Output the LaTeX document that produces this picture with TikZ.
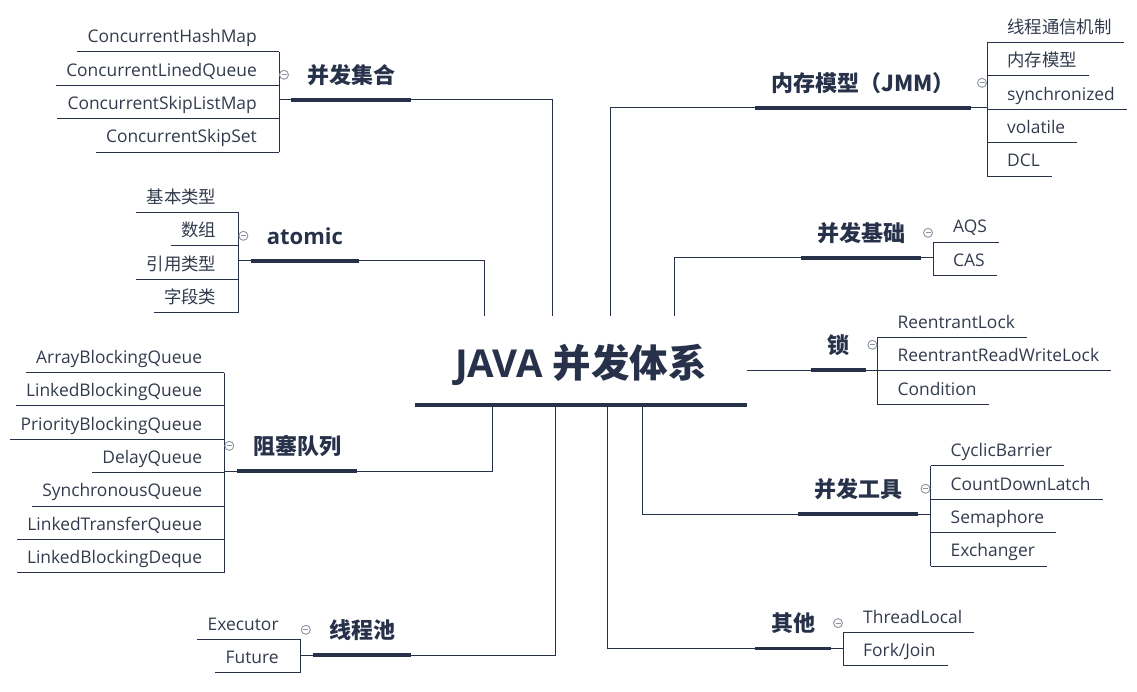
\documentclass[tikz,border=0pt]{standalone}
\usepackage{fontspec}
\setmainfont{Open Sans}
\newfontfamily\cjk{Noto Sans CJK SC}
\usetikzlibrary{positioning}
\definecolor{ink}{HTML}{27324A}
\definecolor{leaftext}{HTML}{323B4D}
\definecolor{foldgray}{HTML}{8C93A0}
\tikzset{
    %Define style for the leaves (left side, text flush right)
    leafl/.style={
           inner xsep=10pt, inner ysep=0pt,
           minimum height=33pt,
           text height=15pt, text depth=0pt,
           font=\fontsize{17.4}{20}\selectfont,
           text=leaftext},
    %leaves on the right side
    leafr/.style={leafl, inner xsep=12pt},
    %Define style for the topics
    topic/.style={
           inner xsep=16pt, inner ysep=0pt,
           minimum height=50pt,
           text height=17pt, text depth=0pt,
           font=\fontsize{22}{26}\selectfont\bfseries,
           text=ink},
    root/.style={
           inner sep=0pt,
           minimum width=331.4pt, minimum height=89pt,
           text height=33pt, text depth=0pt,
           font=\fontsize{38.5}{44}\selectfont\bfseries,
           text=ink},
    % Define line styles
    bar/.style={draw=ink, line width=3.5pt},
    rootbar/.style={draw=ink, line width=4.5pt},
    link/.style={draw=ink, line width=1pt},
    fold/.style={
           circle, draw=foldgray, line width=0.9pt, fill=white,
           minimum size=9pt, inner sep=0pt,
           path picture={\draw[foldgray, line width=0.9pt]
             ([xshift=-2.5pt]path picture bounding box.center) --
             ([xshift=2.5pt]path picture bounding box.center);}}
}
\begin{document}
\begin{tikzpicture}[x=1pt, y=-1pt]
 \useasboundingbox (0,0) rectangle (1137,692);
 \node[root] (root) at (581,360.5) {JAVA {\cjk 并发体系}};
 \draw[rootbar] (root.south west) -- (root.south east);

 % 并发集合
 \coordinate (collb) at (279,100);
 \node[topic, anchor=south west] (coll) at (291,100) {{\cjk 并发集合}};
 \node[leafl, anchor=east] (chm) at (267,35.2) {ConcurrentHashMap};
 \node[leafl, anchor=north east] (clq) at (chm.south east) {ConcurrentLinedQueue};
 \node[leafl, anchor=north east] (cslm) at (clq.south east) {ConcurrentSkipListMap};
 \node[leafl, anchor=north east] (css) at (cslm.south east) {ConcurrentSkipSet};
 \draw[link] (chm.south west) -- (chm.south -| collb)
             (clq.south west) -- (clq.south -| collb)
             (cslm.south west) -- (cslm.south -| collb)
             (css.south west) -- (css.south -| collb);
 \draw[link] (chm.south -| collb) -- (css.south -| collb);
 \draw[link] (collb) -- (coll.south west);
 \draw[bar] (coll.south west) -- (coll.south east);
 \draw[link] (coll.south east) -| ([xshift=-28.7pt]root.north);

 % atomic
 \coordinate (atomb) at (238.4,261);
 \node[topic, anchor=south west] (atomic) at (250.7,261) {atomic};
 \node[leafl, anchor=east] (basic) at (226.4,195.8) {{\cjk 基本类型}};
 \node[leafl, anchor=north east] (array) at (basic.south east) {{\cjk 数组}};
 \node[leafl, anchor=north east] (ref) at (array.south east) {{\cjk 引用类型}};
 \node[leafl, anchor=north east] (field) at (ref.south east) {{\cjk 字段类}};
 \draw[link] (basic.south west) -- (basic.south -| atomb)
             (array.south west) -- (array.south -| atomb)
             (ref.south west) -- (ref.south -| atomb)
             (field.south west) -- (field.south -| atomb);
 \draw[link] (basic.south -| atomb) -- (field.south -| atomb);
 \draw[link] (atomb) -- (atomic.south west);
 \draw[bar] (atomic.south west) -- (atomic.south east);
 \draw[link] (atomic.south east) -| ([xshift=-97pt]root.north);

 % 阻塞队列
 \coordinate (queueb) at (224.3,471);
 \node[topic, anchor=south west] (queue) at (237,471) {{\cjk 阻塞队列}};
 \node[leafl, anchor=east] (abq) at (212.3,355.8) {ArrayBlockingQueue};
 \node[leafl, anchor=north east] (lbq) at (abq.south east) {LinkedBlockingQueue};
 \node[leafl, anchor=north east] (pbq) at (lbq.south east) {PriorityBlockingQueue};
 \node[leafl, anchor=north east] (dq) at (pbq.south east) {DelayQueue};
 \node[leafl, anchor=north east] (sq) at (dq.south east) {SynchronousQueue};
 \node[leafl, anchor=north east] (ltq) at (sq.south east) {LinkedTransferQueue};
 \node[leafl, anchor=north east] (lbd) at (ltq.south east) {LinkedBlockingDeque};
 \draw[link] (abq.south west) -- (abq.south -| queueb)
             (lbq.south west) -- (lbq.south -| queueb)
             (pbq.south west) -- (pbq.south -| queueb)
             (dq.south west) -- (dq.south -| queueb)
             (sq.south west) -- (sq.south -| queueb)
             (ltq.south west) -- (ltq.south -| queueb)
             (lbd.south west) -- (lbd.south -| queueb);
 \draw[link] (abq.south -| queueb) -- (lbd.south -| queueb);
 \draw[link] (queueb) -- (queue.south west);
 \draw[bar] (queue.south west) -- (queue.south east);
 \draw[link] (queue.south east) -| ([xshift=-88.7pt]root.south);

 % 线程池
 \coordinate (poolb) at (300.8,655);
 \node[topic, anchor=south west] (pool) at (313,655) {{\cjk 线程池}};
 \node[leafl, anchor=east] (exec) at (288.8,622.8) {Executor};
 \node[leafl, anchor=north east] (future) at (exec.south east) {Future};
 \draw[link] (exec.south west) -- (exec.south -| poolb)
             (future.south west) -- (future.south -| poolb);
 \draw[link] (exec.south -| poolb) -- (future.south -| poolb);
 \draw[link] (poolb) -- (pool.south west);
 \draw[bar] (pool.south west) -- (pool.south east);
 \draw[link] (pool.south east) -| ([xshift=-25.3pt]root.south);

 % 内存模型
 \coordinate (jmmb) at (987,108);
 \node[topic, anchor=south west] (jmm) at (755,108) {{\cjk 内存模型（JMM）}};
 \node[leafr, anchor=west] (comm) at (995,25.8) {{\cjk 线程通信机制}};
 \node[leafr, anchor=north west] (mem) at (comm.south west) {{\cjk 内存模型}};
 \node[leafr, anchor=north west] (sync) at (mem.south west) {synchronized};
 \node[leafr, anchor=north west] (vol) at (sync.south west) {volatile};
 \node[leafr, anchor=north west] (dcl) at (vol.south west) {DCL};
 \draw[link] (jmmb |- comm.south) -- (comm.south east)
             (jmmb |- mem.south) -- (mem.south east)
             (jmmb |- sync.south) -- (sync.south east)
             (jmmb |- vol.south) -- (vol.south east)
             (jmmb |- dcl.south) -- (dcl.south east);
 \draw[link] (jmmb |- comm.south) -- (jmmb |- dcl.south);
 \draw[link] (jmm.south east) -- (jmmb);
 \draw[bar] (jmm.south west) -- (jmm.south east);
 \draw[link] (jmm.south west) -| ([xshift=29.7pt]root.north);

 % 并发基础
 \coordinate (basisb) at (933,258);
 \node[topic, anchor=south west] (basis) at (801,258) {{\cjk 并发基础}};
 \node[leafr, anchor=west] (aqs) at (941,225.5) {AQS};
 \node[leafr, anchor=north west] (cas) at (aqs.south west) {CAS};
 \draw[link] (basisb |- aqs.south) -- (aqs.south east)
             (basisb |- cas.south) -- (cas.south east);
 \draw[link] (basisb |- aqs.south) -- (basisb |- cas.south);
 \draw[link] (basis.south east) -- (basisb);
 \draw[bar] (basis.south west) -- (basis.south east);
 \draw[link] (basis.south west) -| ([xshift=93.3pt]root.north);

 % 锁
 \coordinate (lockb) at (877.4,370);
 \node[topic, anchor=south west] (lock) at (811.3,370) {{\cjk 锁}};
 \node[leafr, anchor=west] (rl) at (885.4,320.8) {ReentrantLock};
 \node[leafr, anchor=north west] (rrwl) at (rl.south west) {ReentrantReadWriteLock};
 \node[leafr, anchor=north west] (cond) at (rrwl.south west) {Condition};
 \draw[link] (lockb |- rl.south) -- (rl.south east)
             (lockb |- rrwl.south) -- (rrwl.south east)
             (lockb |- cond.south) -- (cond.south east);
 \draw[link] (lockb |- rl.south) -- (lockb |- cond.south);
 \draw[link] (lock.south east) -- (lockb);
 \draw[bar] (lock.south west) -- (lock.south east);
 \draw[link] (root.east |- lock.south west) -- (lock.south west);

 % 并发工具
 \coordinate (toolb) at (930.5,514);
 \node[topic, anchor=south west] (tool) at (798,514) {{\cjk 并发工具}};
 \node[leafr, anchor=west] (cb) at (938.5,449.2) {CyclicBarrier};
 \node[leafr, anchor=north west] (cdl) at (cb.south west) {CountDownLatch};
 \node[leafr, anchor=north west] (sem) at (cdl.south west) {Semaphore};
 \node[leafr, anchor=north west] (exch) at (sem.south west) {Exchanger};
 \draw[link] (toolb |- cb.south) -- (cb.south east)
             (toolb |- cdl.south) -- (cdl.south east)
             (toolb |- sem.south) -- (sem.south east)
             (toolb |- exch.south) -- (exch.south east);
 \draw[link] (toolb |- cb.south) -- (toolb |- exch.south);
 \draw[link] (tool.south east) -- (toolb);
 \draw[bar] (tool.south west) -- (tool.south east);
 \draw[link] (tool.south west) -| ([xshift=61.3pt]root.south);

 % 其他
 \coordinate (otherb) at (843,648.3);
 \node[topic, anchor=south west] (other) at (755,648.3) {{\cjk 其他}};
 \node[leafr, anchor=west] (tl) at (851,615.8) {ThreadLocal};
 \node[leafr, anchor=north west] (fj) at (tl.south west) {Fork/Join};
 \draw[link] (otherb |- tl.south) -- (tl.south east)
             (otherb |- fj.south) -- (fj.south east);
 \draw[link] (otherb |- tl.south) -- (otherb |- fj.south);
 \draw[link] (other.south east) -- (otherb);
 \draw[bar] (other.south west) -- (other.south east);
 \draw[link] (other.south west) -| ([xshift=26.3pt]root.south);

 % fold marks
 \node[fold, xshift=5pt] (fcoll) at (collb |- coll.center) {};
 \node[fold, xshift=5pt] (fatomic) at (atomb |- atomic.center) {};
 \node[fold, xshift=5pt] (fqueue) at (queueb |- queue.center) {};
 \node[fold, xshift=5pt] (fpool) at (poolb |- pool.center) {};
 \node[fold, xshift=-5pt] (fjmm) at (jmmb |- jmm.center) {};
 \node[fold, xshift=-5pt] (fbasis) at (basisb |- basis.center) {};
 \node[fold, xshift=-5pt] (flock) at (lockb |- lock.center) {};
 \node[fold, xshift=-5pt] (ftool) at (toolb |- tool.center) {};
 \node[fold, xshift=-5pt] (fother) at (otherb |- other.center) {};
\end{tikzpicture}
\end{document}
